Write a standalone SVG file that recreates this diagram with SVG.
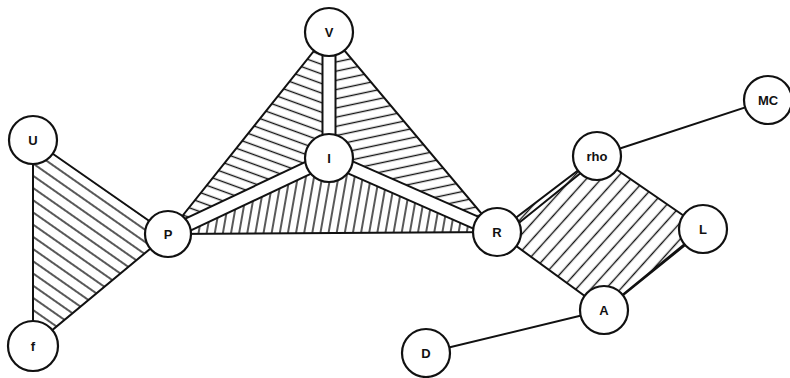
<svg xmlns="http://www.w3.org/2000/svg" width="790" height="378" viewBox="0 0 790 378">
<style>
.edge{stroke:#111;stroke-width:2;fill:none;stroke-linecap:round}
.barO{stroke:#111;stroke-width:15;stroke-linecap:butt}
.barI{stroke:#fff;stroke-width:11;stroke-linecap:butt}
.node circle{fill:#fff;stroke:#111;stroke-width:2.2}
.node text{font-family:"Liberation Sans",Arial,sans-serif;font-weight:bold;font-size:13px;fill:#111;text-anchor:middle;dominant-baseline:central}
.hl{stroke:#111;stroke-width:1.4}
</style>
<defs>
<pattern id="hA" width="10" height="10" patternUnits="userSpaceOnUse" patternTransform="rotate(35)"><line class="hl" x1="0" y1="5" x2="10" y2="5"/></pattern>
<pattern id="hB" width="9" height="9" patternUnits="userSpaceOnUse" patternTransform="rotate(20)"><line class="hl" x1="0" y1="4.5" x2="9" y2="4.5"/></pattern>
<pattern id="hC" width="9" height="9" patternUnits="userSpaceOnUse" patternTransform="rotate(-12)"><line class="hl" x1="0" y1="4.5" x2="9" y2="4.5"/></pattern>
<pattern id="hD" width="8" height="8" patternUnits="userSpaceOnUse" patternTransform="rotate(-80)"><line class="hl" x1="0" y1="4" x2="8" y2="4"/></pattern>
<pattern id="hE" width="11" height="11" patternUnits="userSpaceOnUse" patternTransform="rotate(-48)"><line class="hl" x1="0" y1="5.5" x2="11" y2="5.5"/></pattern>
</defs>
<rect width="790" height="378" fill="#fff"/>
<g id="connectors">
<polygon points="33,140 168,234 33,346" fill="url(#hA)"/>
<polygon points="168,234 329,32 329,158" fill="url(#hB)"/>
<polygon points="329,32 497,232 329,158" fill="url(#hC)"/>
<polygon points="168,234 329,158 497,232" fill="url(#hD)"/>
<polygon points="497,232 597,156 703,229 604,310" fill="url(#hE)"/>
<polyline class="edge" points="33,140 168,234 33,346 33,140"/>
<polyline class="edge" points="168,234 329,32 497,232 168,234"/>
<polyline class="edge" points="497,232 597,156 703,229 604,310 497,232"/>
<line class="edge" x1="520" y1="222" x2="582" y2="172"/>
<line class="edge" x1="684" y1="246" x2="622" y2="296"/>
<line class="edge" x1="597" y1="156" x2="768" y2="100"/>
<line class="edge" x1="604" y1="310" x2="426" y2="353"/>
<line class="barO" x1="329" y1="158" x2="329" y2="32"/>
<line class="barO" x1="329" y1="158" x2="168" y2="234"/>
<line class="barO" x1="329" y1="158" x2="497" y2="232"/>
<line class="barI" x1="329" y1="158" x2="329" y2="32"/>
<line class="barI" x1="329" y1="158" x2="168" y2="234"/>
<line class="barI" x1="329" y1="158" x2="497" y2="232"/>
</g>
<g id="node-U" class="node"><circle cx="33" cy="140" r="24"/><text x="33" y="140">U</text></g>
<g id="node-f" class="node"><circle cx="33" cy="346" r="25"/><text x="33" y="346">f</text></g>
<g id="node-P" class="node"><circle cx="168" cy="234" r="23"/><text x="168" y="234">P</text></g>
<g id="node-V" class="node"><circle cx="329" cy="32" r="24"/><text x="329" y="32">V</text></g>
<g id="node-I" class="node"><circle cx="329" cy="158" r="24"/><text x="329" y="158">I</text></g>
<g id="node-R" class="node"><circle cx="497" cy="232" r="24"/><text x="497" y="232">R</text></g>
<g id="node-rho" class="node"><circle cx="597" cy="156" r="24"/><text x="597" y="156">rho</text></g>
<g id="node-L" class="node"><circle cx="703" cy="229" r="24"/><text x="703" y="229">L</text></g>
<g id="node-A" class="node"><circle cx="604" cy="310" r="24"/><text x="604" y="310">A</text></g>
<g id="node-D" class="node"><circle cx="426" cy="353" r="24"/><text x="426" y="353">D</text></g>
<g id="node-MC" class="node"><circle cx="768" cy="100" r="24"/><text x="768" y="100">MC</text></g>
</svg>
